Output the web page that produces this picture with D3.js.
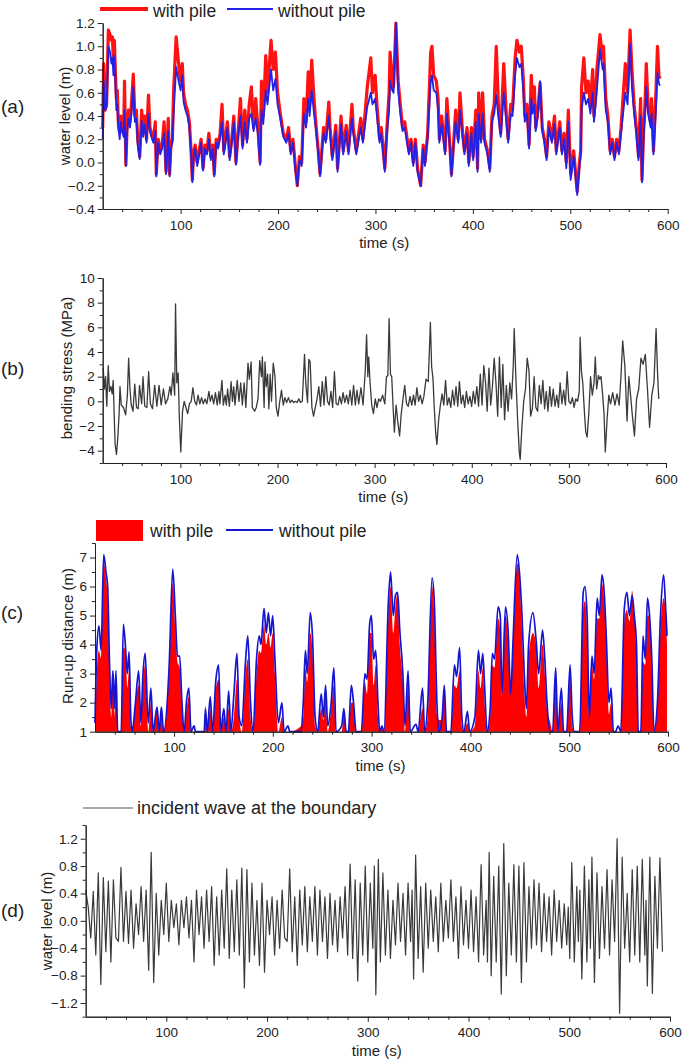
<!DOCTYPE html>
<html><head><meta charset="utf-8">
<script src="https://cdn.jsdelivr.net/npm/d3@7"></script>
<style>
body{margin:0;background:#fff;}
svg{display:block;}
</style></head><body>
<svg id="chart" width="685" height="1063"></svg>
<script>
// ---------------- DATA ----------------
const xTickValues = [100, 200, 300, 400, 500, 600];
const legendA = ["with pile", "without pile"];
const legendC = ["with pile", "without pile"];
const legendD = ["incident wave at the boundary"];
const panelLabels = ["(a)", "(b)", "(c)", "(d)"];

// (a) water level (m): [time s, value]
const aWithPile = [[20,0.3],[21,0.85],[22.5,0.45],[24,0.5],[25.8,1.14],[27.5,1.1],[29,1.05],[30,1.08],[31,0.85],[32,1.05],[33,0.78],[34,0.55],[35,0.62],[36,0.35],[37.5,0.25],[38.5,0.4],[40,0.3],[41.5,0.25],[42.4,0.7],[43.8,-0.02],[45,0.3],[46.5,0.45],[48,0.35],[49.5,0.5],[51.4,0.76],[53,0.4],[54.5,0.45],[56,0.2],[58,0.05],[60,0.45],[61.5,0.25],[63,0.4],[65,0.2],[67,0.58],[68.5,0.3],[70,0.25],[72,0.2],[74,0.35],[75,-0.1],[77,0.2],[79,0.1],[81,0.15],[83,0.35],[85,-0.08],[87.3,0.38],[88.7,-0.1],[90,0.15],[91.5,0.2],[92.7,0.6],[95.4,1.08],[96.8,0.95],[98.5,0.8],[100,0.7],[101.7,0.85],[103,0.6],[105,0.5],[107,0.45],[109,0.35],[110.7,0.1],[112,-0.15],[113.5,0.1],[115,0.15],[117,0.0],[119,0.1],[121,0.2],[123,-0.05],[125,0.15],[127,0.1],[129,0.25],[131,0.05],[133,0.15],[134.5,-0.1],[136.5,0.2],[138.5,0.15],[140.5,0.25],[142.5,0.5],[144.3,0.1],[146,0.2],[148,0.35],[150.3,0.05],[152.5,0.2],[154.6,0.4],[156.8,0.0],[159,0.25],[161.4,0.55],[163.6,0.15],[165.9,0.45],[168.1,0.2],[170.4,0.5],[172.6,0.65],[174.9,0.3],[177.1,0.55],[179.3,0.3],[181.6,0.0],[183,0.7],[184.8,0.4],[187.4,0.92],[189.2,0.6],[192.8,1.05],[195,0.8],[197.3,0.95],[199.5,0.6],[201.8,0.45],[205.4,0.25],[208.5,0.2],[210.8,0.3],[213,0.1],[215.3,0.2],[218,-0.05],[219.8,-0.2],[222,0.05],[224.3,0.0],[226.5,0.55],[228.8,0.35],[231,0.78],[232.4,0.5],[234.6,0.88],[236.9,0.55],[238.7,0.35],[241.3,0.1],[243.1,-0.1],[246.7,0.3],[249,0.2],[252.1,0.52],[253.4,0.3],[255.7,0.05],[259.3,0.32],[261.1,-0.05],[264.7,0.4],[266.9,0.1],[270,0.32],[272.3,0.1],[275.9,0.5],[277.2,0.3],[280.3,0.1],[284.9,0.38],[287.1,0.2],[291.6,0.65],[295.2,0.9],[297,0.6],[299.7,0.75],[301.5,0.5],[304.2,0.2],[306,0.3],[309.6,-0.05],[311.8,0.3],[314,0.6],[315,0.95],[317.3,0.7],[318.6,0.65],[321,1.2],[323.3,0.7],[325.5,0.5],[327.8,0.3],[330,0.35],[334.3,0.1],[336.5,0.2],[338.8,0.0],[341,0.2],[343.2,-0.05],[346.4,-0.2],[349,0.15],[350.8,0.0],[353.6,0.25],[356.7,0.95],[358,1.0],[359.8,0.75],[362.5,0.7],[364.3,0.55],[365.6,0.2],[367.9,0.4],[371.5,0.1],[373.3,0.55],[376,0.2],[378,-0.1],[380.5,0.2],[382.3,0.45],[385,0.2],[386.8,0.6],[389.5,0.25],[391.3,0.1],[394,0.3],[395.8,0.0],[398.5,0.3],[400.3,0.05],[403,0.45],[404.8,-0.05],[406,0.6],[408.4,0.2],[410,0.6],[412,0.2],[415,0.1],[417.4,-0.05],[419.6,0.4],[421.9,0.5],[424,1.0],[426.4,0.45],[428.6,0.25],[431.7,0.85],[434.4,0.4],[436.2,0.2],[438.9,0.5],[440.7,0.45],[443.4,0.9],[445.2,1.05],[447.9,0.95],[449.7,1.0],[451.9,0.7],[453.3,0.4],[455.5,0.5],[457.7,0.15],[460,0.75],[461.3,0.5],[463.1,0.65],[464.5,0.3],[466.7,0.45],[469,0.68],[471.2,0.3],[473.5,0.2],[475.7,0.05],[478,0.35],[481.1,0.2],[483.8,0.4],[485.6,0.1],[489.2,0.35],[491.4,0.1],[493.7,0.25],[495.9,0.0],[498,0.45],[500.4,-0.1],[503.5,0.1],[507.1,-0.25],[509.4,0.0],[510.7,0.1],[511.6,0.65],[513.9,0.9],[516.1,0.6],[518.4,0.7],[520.6,0.5],[523,0.8],[524.3,0.4],[526.1,0.6],[527.3,0.8],[530.5,1.1],[533.2,0.9],[534.1,1.0],[536.4,0.55],[538.6,0.4],[540.9,0.1],[543.1,0.2],[545.4,0.05],[547.6,0.2],[549.9,0.1],[552.1,0.3],[556.5,0.85],[558.8,0.6],[561.4,1.14],[563.3,0.8],[565.5,0.5],[567.8,0.3],[570,0.05],[572.2,0.55],[573.6,-0.15],[575.4,0.3],[576.7,0.5],[578,0.85],[579.8,0.5],[582.5,0.35],[583.4,0.55],[585.4,0.1],[587.9,0.6],[589.5,1.0],[591,0.75],[592,0.72]];

const aWithoutPile = [[20,0.2],[21,0.7],[22.5,0.45],[24,0.48],[25.8,1.0],[27.5,0.95],[29,0.85],[30,0.9],[31,0.75],[32,0.92],[33,0.7],[34,0.45],[35,0.5],[36,0.3],[37.5,0.2],[38.5,0.35],[40,0.27],[41.5,0.22],[42.4,0.45],[43.8,-0.03],[45,0.25],[46.5,0.38],[48,0.3],[49.5,0.42],[51.4,0.65],[53,0.35],[54.5,0.38],[56,0.15],[58,0.03],[60,0.36],[61.5,0.22],[63,0.33],[65,0.17],[67,0.42],[68.5,0.27],[70,0.22],[72,0.17],[74,0.27],[75,-0.12],[77,0.17],[79,0.07],[81,0.12],[83,0.25],[85,-0.1],[87.3,0.27],[88.7,-0.12],[90,0.12],[91.5,0.17],[92.7,0.4],[95.4,0.82],[96.8,0.75],[98.5,0.68],[100,0.62],[101.7,0.75],[103,0.52],[105,0.45],[107,0.4],[109,0.3],[110.7,0.07],[112,-0.17],[113.5,0.07],[115,0.12],[117,-0.03],[119,0.07],[121,0.17],[123,-0.07],[125,0.12],[127,0.07],[129,0.2],[131,0.02],[133,0.12],[134.5,-0.12],[136.5,0.17],[138.5,0.12],[140.5,0.22],[142.5,0.35],[144.3,0.07],[146,0.17],[148,0.3],[150.3,0.02],[152.5,0.17],[154.6,0.35],[156.8,-0.02],[159,0.22],[161.4,0.4],[163.6,0.12],[165.9,0.35],[168.1,0.17],[170.4,0.38],[172.6,0.42],[174.9,0.27],[177.1,0.38],[179.3,0.25],[181.6,-0.02],[183,0.45],[184.8,0.33],[187.4,0.62],[189.2,0.5],[192.8,0.8],[195,0.62],[197.3,0.72],[199.5,0.5],[201.8,0.4],[205.4,0.22],[208.5,0.17],[210.8,0.25],[213,0.07],[215.3,0.17],[218,-0.08],[219.8,-0.2],[222,0.02],[224.3,-0.03],[226.5,0.42],[228.8,0.3],[231,0.55],[232.4,0.4],[234.6,0.62],[236.9,0.42],[238.7,0.3],[241.3,0.07],[243.1,-0.12],[246.7,0.25],[249,0.17],[252.1,0.4],[253.4,0.25],[255.7,0.02],[259.3,0.27],[261.1,-0.08],[264.7,0.33],[266.9,0.07],[270,0.27],[272.3,0.07],[275.9,0.38],[277.2,0.25],[280.3,0.07],[284.9,0.3],[287.1,0.17],[291.6,0.48],[295.2,0.6],[297,0.5],[299.7,0.55],[301.5,0.4],[304.2,0.17],[306,0.25],[309.6,-0.08],[311.8,0.25],[314,0.45],[315,0.7],[317.3,0.62],[318.6,0.6],[321,1.2],[323.3,0.62],[325.5,0.42],[327.8,0.27],[330,0.3],[334.3,0.07],[336.5,0.17],[338.8,-0.03],[341,0.17],[343.2,-0.08],[346.4,-0.2],[349,0.12],[350.8,-0.03],[353.6,0.22],[356.7,0.7],[358,0.75],[359.8,0.62],[362.5,0.6],[364.3,0.45],[365.6,0.17],[367.9,0.33],[371.5,0.07],[373.3,0.42],[376,0.17],[378,-0.12],[380.5,0.17],[382.3,0.35],[385,0.17],[386.8,0.45],[389.5,0.22],[391.3,0.07],[394,0.25],[395.8,-0.03],[398.5,0.25],[400.3,0.02],[403,0.35],[404.8,-0.08],[406,0.42],[408.4,0.17],[410,0.42],[412,0.17],[415,0.07],[417.4,-0.08],[419.6,0.35],[421.9,0.42],[424,0.58],[426.4,0.38],[428.6,0.22],[431.7,0.6],[434.4,0.35],[436.2,0.17],[438.9,0.42],[440.7,0.4],[443.4,0.75],[445.2,0.9],[447.9,0.82],[449.7,0.85],[451.9,0.6],[453.3,0.35],[455.5,0.42],[457.7,0.12],[460,0.55],[461.3,0.42],[463.1,0.5],[464.5,0.27],[466.7,0.4],[469,0.7],[471.2,0.27],[473.5,0.17],[475.7,0.02],[478,0.3],[481.1,0.17],[483.8,0.33],[485.6,0.07],[489.2,0.3],[491.4,0.07],[493.7,0.2],[495.9,-0.05],[498,0.35],[500.4,-0.15],[503.5,0.05],[507.1,-0.28],[509.4,-0.03],[510.7,0.07],[511.6,0.45],[513.9,0.6],[516.1,0.5],[518.4,0.55],[520.6,0.42],[523,0.6],[524.3,0.35],[526.1,0.5],[527.3,0.62],[530.5,0.97],[533.2,0.8],[534.1,0.85],[536.4,0.45],[538.6,0.35],[540.9,0.07],[543.1,0.17],[545.4,0.02],[547.6,0.17],[549.9,0.07],[552.1,0.25],[556.5,0.6],[558.8,0.5],[561.4,1.02],[563.3,0.65],[565.5,0.42],[567.8,0.25],[570,0.02],[572.2,0.4],[573.6,-0.17],[575.4,0.25],[576.7,0.4],[578,0.65],[579.8,0.42],[582.5,0.3],[583.4,0.42],[585.4,0.07],[587.9,0.45],[589.5,0.77],[591,0.68],[592,0.66]];

// (b) bending stress (MPa): [time s, value]
const bStress = [[20.5,2.7],[21.8,1.0],[23,2.0],[24.2,-0.4],[25.7,2.9],[27,0.8],[28.5,1.2],[29.8,0.6],[30.8,1.7],[31.8,-1.0],[32.8,-3.5],[34.2,-4.3],[35.5,-3.0],[36.9,-1.0],[37.8,1.2],[39.1,-0.3],[41.4,-0.5],[43.6,-1.1],[45.4,0.5],[46.7,3.5],[48.1,1.0],[49.4,-0.3],[51.2,-0.8],[53.0,1.4],[54.8,-0.5],[56.6,-0.6],[57.9,1.3],[60.1,-0.2],[61.5,2.0],[63.3,-0.4],[65.5,-0.5],[67.3,2.4],[69.1,-0.2],[71.3,-0.6],[73.5,1.3],[75.8,-0.4],[78.0,1.3],[80.2,-0.3],[82.5,1.0],[84.7,-0.2],[87.0,0.2],[89.2,1.2],[90.5,0.5],[92.3,2.3],[94.1,0.5],[95.0,7.9],[96.3,1.5],[97.7,2.3],[99.0,-1.5],[100.4,-4.1],[102.2,-0.8],[103.9,0.0],[105.7,-0.5],[107.5,-1.0],[109.3,-0.2],[111.1,0.0],[112.9,1.1],[114.7,0.0],[116.5,-0.3],[118.2,0.5],[120.0,-0.2],[121.8,0.3],[123.6,-0.2],[125.4,0.2],[127.2,-0.2],[129.4,0.8],[130.8,0.0],[132.5,0.5],[134.3,-0.2],[136.1,0.7],[137.9,-0.3],[139.7,0.8],[140.6,-0.2],[142.8,1.7],[144.2,-0.3],[146.0,0.5],[147.3,-0.3],[148.6,1.0],[150.4,-0.4],[152.2,1.6],[153.6,0.0],[154.9,1.2],[156.2,-0.3],[158.5,1.7],[160.3,0.0],[162.1,1.5],[163.8,-0.3],[165.6,1.5],[167.4,-0.5],[169.6,3.1],[171.0,1.8],[172.8,3.2],[174.1,-0.5],[176.4,-0.8],[178.1,-0.5],[179.9,0.2],[181.7,3.3],[183.5,2.0],[184.4,3.6],[186.2,-0.5],[187.1,3.2],[188.4,1.2],[189.8,2.2],[191.1,-0.6],[192.4,2.2],[193.8,0.0],[195.6,3.1],[197.4,2.0],[198.7,-0.5],[200.5,-1.2],[202.3,0.0],[204.1,0.9],[205.9,-0.3],[207.6,0.3],[209.4,-0.1],[211.2,0.3],[213.0,-0.1],[214.8,0.1],[216.6,-0.1],[218.4,0.0],[220.2,-0.1],[221.9,0.2],[223.7,-0.1],[225.5,0.0],[227.8,3.8],[229.1,1.5],[230.9,-0.1],[232.2,3.4],[233.6,3.2],[235.4,-0.5],[237.1,-1.2],[238.9,-0.5],[240.7,0.2],[242.5,1.2],[244.3,-0.4],[246.1,1.6],[247.9,-0.3],[249.7,2.0],[251.5,0.0],[253.2,-0.3],[255.0,0.8],[256.8,-0.5],[258.6,2.4],[260.4,-0.2],[262.2,-0.3],[264.0,0.4],[265.8,-0.2],[267.5,0.7],[269.3,-0.1],[271.1,0.5],[272.9,-0.2],[274.7,0.9],[276.5,-0.3],[278.3,1.3],[280.1,-0.3],[281.8,0.9],[283.6,-0.2],[285.9,1.1],[288.1,-0.3],[290.3,2.4],[291.7,5.4],[293.0,2.0],[293.9,3.6],[295.3,1.5],[297.0,-0.3],[298.8,-1.0],[300.6,0.2],[302.4,-0.5],[304.2,0.2],[306.0,0.0],[308.2,0.5],[310.5,-0.2],[312.2,2.0],[313.6,2.1],[314.9,6.7],[316.3,2.2],[317.6,2.0],[318.9,-0.3],[320.3,-2.5],[322.1,-0.3],[323.9,-1.7],[325.7,-2.8],[327.4,-1.0],[329.2,0.2],[331.0,1.3],[332.8,-0.2],[334.6,-0.4],[336.4,0.4],[338.2,-0.3],[340.0,0.5],[341.7,-0.3],[343.5,1.1],[345.3,0.0],[347.1,0.5],[348.9,-0.2],[350.7,0.4],[352.9,1.8],[355.2,1.6],[357.4,6.4],[358.7,2.8],[360.1,1.8],[361.4,-0.5],[362.8,-2.5],[364.1,-3.5],[365.9,-1.5],[367.7,-0.3],[369.5,0.6],[371.2,-0.3],[373.0,1.7],[374.8,-0.3],[376.6,0.3],[378.4,-0.5],[380.2,0.9],[382.0,-0.3],[383.8,1.2],[385.6,-0.4],[387.3,1.6],[389.1,-0.2],[390.9,0.5],[392.7,-0.5],[394.5,0.8],[396.3,-0.2],[398.1,0.4],[399.9,-0.4],[401.6,0.8],[403.4,-0.2],[405.2,1.2],[407.0,-0.4],[408.8,2.2],[410.6,-0.3],[412.4,2.9],[414.2,1.5],[415.9,-0.8],[417.7,2.7],[419.5,-0.3],[421.3,1.2],[423.1,3.5],[424.9,1.5],[426.7,-1.2],[428.5,3.6],[430.3,-0.5],[432.0,3.0],[433.8,-1.5],[435.6,1.3],[437.4,-0.8],[439.2,1.5],[441.0,0.2],[442.8,3.0],[443.7,5.9],[445.4,2.0],[447.2,-1.5],[449.0,-4.2],[449.9,-4.7],[451.7,-2.0],[453.5,0.0],[455.3,1.0],[457.1,3.5],[458.9,2.5],[460.6,-1.2],[462.4,-0.6],[464.2,2.0],[466.0,-0.5],[467.8,-0.8],[469.6,1.3],[471.4,-0.2],[473.2,1.7],[475.0,-0.6],[476.7,0.8],[478.5,-0.8],[480.3,1.2],[482.1,-0.4],[483.9,1.0],[485.7,-0.4],[487.5,0.5],[489.3,-0.5],[491.0,1.5],[492.8,-0.2],[494.6,0.9],[496.4,-0.3],[498.2,2.4],[500.0,0.0],[501.8,-0.2],[503.6,0.3],[505.4,-0.5],[507.1,0.2],[508.9,0.0],[510.7,0.8],[511.6,5.2],[512.9,2.5],[514.3,1.5],[516.1,-1.0],[517.4,-2.5],[518.8,-2.9],[520.5,-1.0],[522.3,2.0],[524.1,0.5],[525.9,1.5],[527.2,3.6],[528.6,1.0],[530.4,2.1],[531.7,1.8],[533.1,2.0],[534.8,0.5],[536.2,-1.0],[537.5,-4.1],[539.3,-1.5],[541.1,0.5],[542.9,-0.2],[545.1,0.7],[547.4,-0.3],[549.6,0.6],[551.8,-0.3],[553.6,2.0],[555.4,4.9],[557.6,2.9],[559.9,-1.6],[561.7,2.0],[563.5,0.5],[565.2,-1.0],[567.5,-2.8],[569.7,0.2],[571.9,1.0],[574.2,3.5],[576.4,3.0],[578.7,3.8],[580.9,1.0],[583.1,-2.1],[585.4,0.5],[587.6,1.5],[589.8,5.9],[591.2,2.5],[592.5,0.2]];

// (c) run-up distance (m): [time s, value]
const cWithPile = [[20,1.0],[21.8,3.0],[24,3.8],[26.2,3.5],[28.8,6.8],[31.1,6.3],[32.8,5.5],[34.6,3.0],[36.4,1.5],[38.1,3.1],[39.9,1.5],[41.2,3.0],[43,1.0],[46.5,1.0],[48.7,3.9],[50.9,3.8],[52.7,2.5],[54.5,3.1],[56.2,1.2],[57.6,1.0],[60.7,1.9],[64.2,2.6],[66.4,1.2],[68.6,2.7],[70.8,3.3],[73.9,1.0],[76.6,2.0],[78.8,1.0],[82.8,1.7],[85,1.0],[87.2,1.8],[89.4,1.0],[95.1,3.2],[98.7,6.1],[101.3,4.5],[103.5,3.4],[105.7,3.2],[108,1.8],[110.2,1.0],[112.8,1.8],[115,2.2],[117.2,1.0],[120.3,1.0],[121.7,1.0],[130.5,1.0],[131.8,1.9],[133.6,1.0],[136.7,1.8],[138.9,1.0],[142.4,2.5],[145.1,2.8],[147.3,1.0],[150.4,1.5],[152.6,1.0],[155.3,1.8],[157.5,1.0],[160.6,1.5],[163.7,2.8],[165.9,1.5],[168.5,1.0],[172.5,3.0],[174.7,3.5],[177.4,1.5],[180,1.0],[183.5,3.0],[186.2,3.8],[188,3.7],[191.1,4.7],[193.3,4.0],[195.5,4.4],[197.7,3.9],[199.9,4.4],[202.1,3.0],[205.6,1.0],[209.2,1.5],[211.4,1.0],[215.4,1.0],[217.1,1.0],[228.6,1.2],[230.8,1.5],[233,3.2],[234.8,2.7],[237.9,4.4],[240.1,3.8],[242.8,1.2],[245.4,1.0],[249,1.8],[251.2,1.4],[253.4,2.2],[255.6,1.0],[259.1,1.8],[261.8,2.6],[264,1.0],[269.7,1.0],[271.9,1.7],[274.2,1.0],[276.4,1.0],[279.5,2.0],[281.7,2.0],[284.3,1.0],[289.6,1.0],[293.2,2.7],[295.4,2.3],[298,4.4],[299.8,4.4],[302,2.6],[304.2,3.3],[306.4,1.5],[308.2,1.0],[310.4,1.2],[312.6,1.0],[317,5.0],[319.2,6.0],[321.9,4.4],[324.1,5.3],[326.3,5.8],[328.5,4.0],[331.6,2.7],[333.8,1.0],[336.9,2.6],[339.1,1.0],[344.9,1.0],[347.1,1.0],[351.5,1.8],[353.7,1.0],[356.8,1.5],[361.2,6.0],[363.4,5.0],[366.1,1.6],[368.3,1.4],[371.4,1.4],[373.6,2.5],[375.8,1.0],[380.2,1.0],[383.8,2.6],[386,2.5],[389.1,3.1],[391.3,1.2],[393.5,1.0],[397,1.3],[399.2,1.0],[404.5,1.2],[408.1,3.1],[410.3,2.5],[412.5,3.2],[414.3,2.0],[416.9,1.0],[420,1.5],[422.2,3.3],[424.4,3.2],[428,4.9],[430.2,4.5],[431.9,2.2],[435.5,5.0],[438.1,4.2],[440.8,2.3],[443,3.8],[447.4,6.8],[449.6,6.3],[452.2,4.4],[454.5,2.4],[456.7,1.5],[458.9,3.6],[463.3,4.4],[466.4,4.0],[469.1,2.5],[473,4.0],[475.3,3.0],[477.5,1.8],[480.6,1.35],[483.2,1.0],[486.3,2.8],[488.5,1.0],[492.1,2.0],[494.3,1.0],[497.4,1.0],[500.9,3.0],[503.1,1.2],[505.3,1.0],[510.6,1.0],[514.2,5.2],[515.9,5.5],[518.1,4.5],[520.3,1.5],[523,3.3],[525.2,2.8],[528.3,4.9],[530.5,4.9],[533.2,6.1],[535.4,5.5],[537.6,4.0],[540.2,1.6],[542.4,2.0],[544.7,1.0],[546.9,1.0],[549.5,1.0],[552.2,1.0],[555.7,4.8],[558.4,5.2],[561,4.8],[563.7,5.85],[565.9,5.0],[568.1,3.6],[569.9,1.0],[572.5,1.0],[574.7,3.4],[577,3.3],[579.2,5.0],[581.3,5.0],[583.6,3.0],[585.8,1.0],[589.3,1.8],[592.4,4.5],[595.5,5.6],[597.3,5.3],[599,4.0]];

const cWithoutPile = [[20,1.3],[21.8,3.8],[24,4.65],[26.2,3.8],[28.8,7.1],[31.1,6.5],[32.8,6.0],[34.6,3.5],[36.4,1.8],[38.1,3.1],[39.9,1.8],[41.2,3.1],[43,1.0],[46.5,1.0],[48.7,4.7],[50.9,3.9],[52.7,3.0],[54.5,3.75],[56.2,1.5],[57.6,1.0],[60.7,1.9],[64.2,3.1],[66.4,1.3],[68.6,3.0],[70.8,3.7],[73.9,1.3],[76.6,2.5],[78.8,1.0],[82.8,1.85],[85,1.0],[87.2,1.85],[89.4,1.0],[95.1,3.3],[98.7,6.6],[101.3,5.0],[103.5,3.6],[105.7,3.6],[108,2.0],[110.2,1.0],[112.8,2.1],[115,2.5],[117.2,1.0],[120.3,1.2],[121.7,1.0],[130.5,1.0],[131.8,1.8],[133.6,1.0],[136.7,2.2],[138.9,1.0],[142.4,2.8],[145.1,3.3],[147.3,1.0],[150.4,1.8],[152.6,1.0],[155.3,2.4],[157.5,1.0],[160.6,2.3],[163.7,3.7],[165.9,1.5],[168.5,1.2],[172.5,3.5],[174.7,4.3],[177.4,2.0],[180,1.0],[183.5,3.5],[186.2,4.3],[188,4.0],[191.1,5.25],[193.3,4.4],[195.5,5.1],[197.7,4.3],[199.9,5.0],[202.1,3.5],[205.6,1.3],[209.2,2.0],[211.4,1.0],[215.4,1.2],[217.1,1.0],[228.6,1.0],[230.8,2.0],[233,3.8],[234.8,3.0],[237.9,5.1],[240.1,4.3],[242.8,1.5],[245.4,1.0],[249,2.3],[251.2,1.5],[253.4,2.6],[255.6,1.2],[259.1,2.0],[261.8,3.2],[264,1.0],[269.7,1.2],[271.9,1.8],[274.2,1.0],[276.4,1.0],[279.5,2.6],[281.7,2.0],[284.3,1.0],[289.6,1.0],[293.2,3.0],[295.4,2.8],[298,4.7],[299.8,5.0],[302,3.5],[304.2,3.8],[306.4,2.0],[308.2,1.0],[310.4,1.2],[312.6,1.0],[317,5.5],[319.2,6.5],[321.9,5.0],[324.1,5.7],[326.3,5.8],[328.5,4.5],[331.6,3.0],[333.8,1.2],[336.9,3.1],[339.1,1.0],[344.9,1.25],[347.1,1.0],[351.5,2.5],[353.7,1.0],[356.8,2.0],[361.2,6.3],[363.4,5.5],[366.1,2.0],[368.3,1.0],[371.4,1.5],[373.6,2.6],[375.8,1.0],[380.2,1.0],[383.8,3.3],[386,2.9],[389.1,3.9],[391.3,1.5],[393.5,1.0],[397,1.7],[399.2,1.0],[404.5,1.5],[408.1,3.8],[410.3,3.0],[412.5,3.7],[414.3,2.6],[416.9,1.0],[420,1.8],[422.2,3.7],[424.4,3.5],[428,5.3],[430.2,5.0],[431.9,2.3],[435.5,5.3],[438.1,4.5],[440.8,2.3],[443,4.0],[447.4,7.1],[449.6,6.5],[452.2,5.0],[454.5,3.0],[456.7,1.8],[458.9,4.0],[463.3,5.1],[466.4,4.2],[469.1,3.0],[473,4.5],[475.3,3.5],[477.5,2.0],[480.6,1.0],[483.2,1.0],[486.3,3.2],[488.5,1.0],[492.1,2.5],[494.3,1.0],[497.4,1.0],[500.9,3.3],[503.1,1.5],[505.3,1.0],[510.6,1.0],[514.2,5.8],[515.9,6.0],[518.1,5.0],[520.3,1.5],[523,3.6],[525.2,3.0],[528.3,5.6],[530.5,5.0],[533.2,6.4],[535.4,5.8],[537.6,4.2],[540.2,2.0],[542.4,2.5],[544.7,1.0],[546.9,1.0],[549.5,1.2],[552.2,1.0],[555.7,5.2],[558.4,5.8],[561,5.0],[563.7,5.7],[565.9,5.0],[568.1,4.0],[569.9,1.0],[572.5,1.0],[574.7,4.3],[577,3.5],[579.2,5.6],[581.3,5.0],[583.6,3.5],[585.8,1.0],[589.3,2.0],[592.4,5.0],[595.5,6.4],[597.3,5.5],[599,4.3]];

// (d) incident wave water level (m): [time s, value]
const dIncident = [[20,0.45],[22.5,0.2],[25,-0.25],[27.5,0.43],[30,-0.5],[32.5,0.7],[35,-0.93],[37.5,0.63],[40,-0.45],[42.5,0.58],[45,-0.6],[47.5,0.6],[50,-0.25],[52.5,-0.3],[55,0.78],[57.5,-0.3],[60,0.43],[62.5,-0.33],[65,0.45],[67.5,-0.4],[70,0.25],[72.5,-0.2],[75,0.5],[77.5,-0.3],[80,0.45],[82.5,-0.72],[85,1.0],[87.5,-0.9],[90,0.4],[92.5,-0.5],[95,0.3],[97.5,-0.2],[100,0.55],[102.5,-0.3],[105,0.3],[107.5,-0.1],[110,0.25],[112.5,-0.35],[115,0.3],[117.5,-0.1],[120,0.35],[122.5,-0.25],[125,0.3],[127.5,-0.6],[130,0.45],[132.5,-0.2],[135,0.35],[137.5,-0.4],[140,0.45],[142.5,-0.3],[145,0.5],[147.5,-0.65],[150,0.35],[152.5,-0.5],[155,0.45],[157.5,-0.4],[160,0.76],[162.5,-0.55],[165,0.45],[167.5,-0.45],[170,0.6],[172.5,-0.5],[175,0.77],[177.5,-0.98],[180,0.75],[182.5,-0.6],[185,0.55],[187.5,-0.5],[190,0.3],[192.5,-0.65],[195,0.55],[197.5,-0.75],[200,0.3],[202.5,-0.2],[205,0.35],[207.5,-0.5],[210,0.3],[212.5,-0.4],[215,0.45],[217.5,-0.25],[220,-0.3],[222.5,0.76],[225,-0.45],[227.5,0.35],[230,-0.65],[232.5,0.45],[235,-0.35],[237.5,0.5],[240,-0.45],[242.5,0.35],[245,-0.3],[247.5,0.5],[250,-0.5],[252.5,0.45],[255,-0.3],[257.5,0.35],[260,-0.55],[262.5,0.4],[265,-0.35],[267.5,0.3],[270,-0.45],[272.5,0.35],[275,-0.25],[277.5,0.5],[280,-0.5],[282.5,0.83],[285,-0.55],[287.5,0.6],[290,-0.88],[292.5,0.55],[295,-0.5],[297.5,0.8],[300,-0.6],[302.5,0.55],[305,-0.4],[306.5,0.8],[308,-1.08],[310.5,0.9],[312.5,-0.6],[315,0.7],[317.5,-0.5],[320,0.45],[322.5,-0.55],[325,0.3],[327.5,-0.35],[330,0.55],[332.5,-0.3],[335,0.4],[337.5,-0.5],[340,0.55],[342.5,-0.3],[344,0.45],[345.5,-0.85],[347.5,0.96],[350,-0.55],[352.5,0.5],[355,-0.75],[357.5,0.55],[360,-0.4],[362.5,0.45],[365,-0.3],[367.5,0.35],[370,-0.45],[372.5,0.55],[375,-0.3],[377.5,0.3],[380,-0.25],[382.5,0.6],[385,-0.3],[387.5,0.35],[390,-0.55],[392.5,0.5],[395,-0.35],[397.5,0.3],[400,-0.4],[402.5,0.45],[405,-0.45],[407.5,0.35],[410,-0.6],[412.5,0.82],[415,-0.5],[417.5,0.3],[418.8,-0.6],[420.5,1.0],[422.5,-0.8],[425,0.65],[427.5,-0.6],[430,0.8],[432.5,-1.07],[435,1.13],[437.5,-0.8],[440,0.55],[442.5,-0.5],[445,0.82],[447.5,-0.6],[450,0.8],[452.5,-0.9],[455,0.85],[457.5,-0.6],[460,0.5],[462.5,-0.4],[465,0.6],[467.5,-0.35],[470,0.55],[472.5,-0.45],[475,0.4],[477.5,-0.3],[480,0.35],[482.5,-0.5],[485,0.45],[487.5,-0.3],[490,0.3],[492.5,-0.4],[495,0.25],[497.5,-0.35],[499,0.2],[500.5,-0.55],[502.5,0.85],[505,-0.6],[507.5,0.5],[509,-0.3],[510.5,0.45],[512.5,-0.85],[515,0.8],[517.5,-0.6],[519.5,0.6],[521,-0.4],[522.5,0.93],[525,-0.9],[527.5,0.7],[530,-0.55],[532.5,0.5],[535,-0.4],[537.5,0.75],[540,-0.5],[542.5,0.6],[545,-0.3],[547.5,1.2],[550,-1.35],[552.5,0.93],[555,-0.4],[557.5,0.4],[560,-0.6],[562.5,0.75],[565,-0.5],[567.5,0.8],[570,-0.6],[572.5,0.9],[575,-0.5],[576.2,0.3],[577.5,-0.95],[580,0.93],[582.5,-1.06],[585,0.65],[587.5,-0.4],[590,0.92],[592.5,-0.45]];

// ---------------- DRAWING ----------------
const FONT = '"Liberation Sans", Arial, Helvetica, sans-serif';
const INK = "#222";
const RED = "#ff1212";
const BLUE = "#2222e6";
const svg = d3.select("#chart");
svg.append("rect").attr("width",685).attr("height",1063).attr("fill","#fff");

const xMinor = d3.range(40, 600, 20).filter(v => v % 100 !== 0);

function makePanel(cfg){
  const g = svg.append("g");
  const x = d3.scaleLinear().domain([20, 600]).range([cfg.x0, cfg.x1]);
  const y = d3.scaleLinear().domain(cfg.yDomain).range([cfg.yBottom, cfg.yTop]);
  return {g, x, y, cfg};
}

function styleAxis(sel){
  sel.attr("font-family", null).attr("font-size", null);
  sel.select(".domain").attr("stroke", INK).attr("stroke-width", 1);
  sel.selectAll(".tick line").attr("stroke", INK).attr("stroke-width", 1);
  sel.selectAll(".tick text").attr("fill", INK)
     .style("font-size", "13.5px").style("font-family", FONT);
}

function drawAxes(p){
  const {g, x, y, cfg} = p;
  const yb = y.range()[0];
  g.append("g").attr("transform", `translate(0,${yb})`)
    .call(d3.axisBottom(x).tickValues(xMinor).tickSize(3).tickFormat("").tickSizeOuter(0))
    .call(styleAxis);
  g.append("g").attr("transform", `translate(0,${yb})`)
    .call(d3.axisBottom(x).tickValues(xTickValues).tickSize(5).tickPadding(6).tickSizeOuter(0).tickFormat(d3.format("d")))
    .call(styleAxis);
  g.append("g").attr("transform", `translate(${cfg.x0},0)`)
    .call(d3.axisLeft(y).tickValues(cfg.yMinor).tickSize(3).tickFormat("").tickSizeOuter(0))
    .call(styleAxis);
  g.append("g").attr("transform", `translate(${cfg.x0},0)`)
    .call(d3.axisLeft(y).tickValues(cfg.yMajor).tickSize(5).tickPadding(3).tickSizeOuter(0).tickFormat(cfg.yFormat))
    .call(styleAxis);
  g.append("text").attr("x", (cfg.x0 + x(600)) / 2 - 1).attr("y", yb + 39)
    .attr("text-anchor", "middle").attr("fill", INK)
    .style("font-family", FONT).style("font-size", "15px").text("time (s)");
  g.append("text")
    .attr("transform", `translate(${cfg.yTitleX},${cfg.yTitleY}) rotate(-90)`)
    .attr("text-anchor", "middle").attr("dominant-baseline", "central").attr("fill", INK)
    .style("font-family", FONT).style("font-size", "15px").text(cfg.yTitle);
  g.append("text").attr("x", 1).attr("y", cfg.labelY)
    .attr("dominant-baseline", "central").attr("fill", INK)
    .style("font-family", FONT).style("font-size", "19px").text(cfg.label);
}

function minorRange(a, b, step){
  const out = [];
  for (let i = 0; a + i * step <= b + 1e-9; i++) out.push(+(a + i * step).toFixed(3));
  return out;
}
function legendText(x, y, txt, size){
  svg.append("text").attr("x", x).attr("y", y).attr("fill", INK)
    .style("font-family", FONT).style("font-size", (size || 17.5) + "px").text(txt);
}

// ----- Panel (a)
const pa = makePanel({x0:102.7, x1:667.7, yDomain:[-0.4,1.2], yBottom:209, yTop:23});
{
  const line = d3.line().x(d => pa.x(d[0])).y(d => pa.y(d[1]));
  pa.g.append("path").datum(aWithPile).attr("d", line).attr("fill","none")
    .attr("stroke", RED).attr("stroke-width", 3.2).attr("stroke-linejoin","round");
  pa.g.append("path").datum(aWithoutPile).attr("d", line).attr("fill","none")
    .attr("stroke", BLUE).attr("stroke-width", 1.8).attr("stroke-linejoin","round");
  drawAxes({...pa, cfg:{...pa.cfg, x0:102.7,
    yMajor: minorRange(-0.4, 1.2, 0.2), yMinor: minorRange(-0.3, 1.1, 0.2),
    yFormat: d3.format(".1f"), yTitle:"water level (m)", yTitleX:64, yTitleY:116,
    label: panelLabels[0], labelY:106}});
  svg.append("line").attr("x1",100).attr("x2",148).attr("y1",9).attr("y2",9)
    .attr("stroke", RED).attr("stroke-width", 4);
  legendText(153, 16.5, legendA[0]);
  svg.append("line").attr("x1",227).attr("x2",273).attr("y1",9).attr("y2",9)
    .attr("stroke", BLUE).attr("stroke-width", 2);
  legendText(278, 16.5, legendA[1]);
}

// ----- Panel (b)
const pb = makePanel({x0:102.7, x1:666, yDomain:[-5,10], yBottom:463, yTop:278});
{
  const line = d3.line().x(d => pb.x(d[0])).y(d => pb.y(d[1]));
  pb.g.append("path").datum(bStress).attr("d", line).attr("fill","none")
    .attr("stroke", "#3a3a3a").attr("stroke-width", 1.3).attr("stroke-linejoin","round");
  drawAxes({...pb, cfg:{...pb.cfg, x0:102.7,
    yMajor: minorRange(-4, 10, 2), yMinor: minorRange(-5, 9, 2),
    yFormat: d3.format("d"), yTitle:"bending stress (MPa)", yTitleX:66, yTitleY:368,
    label: panelLabels[1], labelY:368}});
}

// ----- Panel (c)
const pc = makePanel({x0:95, x1:668, yDomain:[1,7.5], yBottom:731.7, yTop:543});
{
  const area = d3.area().curve(d3.curveMonotoneX)
    .x(d => pc.x(d[0])).y0(pc.y(1)).y1(d => pc.y(Math.max(1, d[1])));
  const line = d3.line().curve(d3.curveMonotoneX)
    .x(d => pc.x(d[0])).y(d => pc.y(Math.max(1, d[1])));
  pc.g.append("path").datum(cWithPile).attr("d", area).attr("fill", "#ff0000");
  pc.g.append("path").datum(cWithoutPile).attr("d", line).attr("fill","none")
    .attr("stroke", "#1414d2").attr("stroke-width", 1.7).attr("stroke-linejoin","round");
  drawAxes({...pc, cfg:{...pc.cfg, x0:95,
    yMajor: minorRange(1, 7, 1), yMinor: minorRange(1.5, 7.5, 1),
    yFormat: d3.format("d"), yTitle:"Run-up distance (m)", yTitleX:67, yTitleY:636,
    label: panelLabels[2], labelY:612}});
  svg.append("rect").attr("x",96).attr("y",520).attr("width",47).attr("height",21).attr("fill","#ff0000");
  legendText(150, 537, legendC[0]);
  svg.append("line").attr("x1",226).attr("x2",273).attr("y1",530).attr("y2",530)
    .attr("stroke", "#1414d2").attr("stroke-width", 2);
  legendText(279, 537, legendC[1]);
}

// ----- Panel (d)
const pd = makePanel({x0:85.7, x1:670, yDomain:[-1.4,1.4], yBottom:1016.7, yTop:825});
{
  const line = d3.line().x(d => pd.x(d[0])).y(d => pd.y(d[1]));
  pd.g.append("path").datum(dIncident).attr("d", line).attr("fill","none")
    .attr("stroke", "#3a3a3a").attr("stroke-width", 1.2).attr("stroke-linejoin","round");
  drawAxes({...pd, cfg:{...pd.cfg, x0:85.7,
    yMajor: minorRange(-1.2, 1.2, 0.4), yMinor: minorRange(-1.4, 1.4, 0.4),
    yFormat: d3.format(".1f"), yTitle:"water level (m)", yTitleX:46, yTitleY:921,
    label: panelLabels[3], labelY:910}});
  svg.append("line").attr("x1",83).attr("x2",133).attr("y1",808).attr("y2",808)
    .attr("stroke", "#555").attr("stroke-width", 1.2);
  legendText(137, 814, legendD[0], 18);
}
</script>
</body></html>
